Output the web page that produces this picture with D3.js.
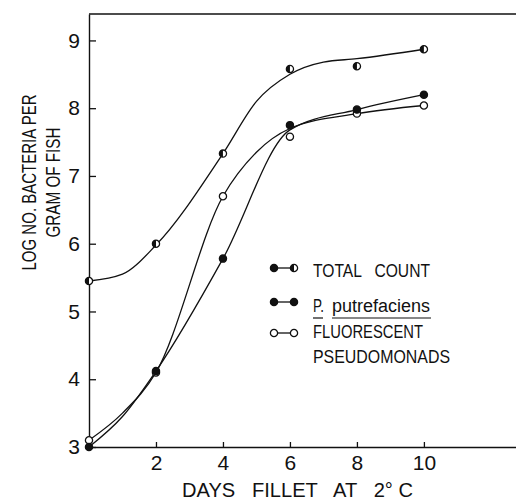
<!DOCTYPE html>
<html>
<head>
<meta charset="utf-8">
<style>
  body { margin: 0; background: #fff; }
  svg { display: block; font-family: "Liberation Sans", Arial, sans-serif; }
  text { white-space: pre; }
</style>
</head>
<body>
<svg width="516" height="502"></svg>
<script src="https://d3js.org/d3.v7.min.js"></script>
<script>
// measured values (days of storage, log count per gram)
var days = [0, 2, 4, 6, 8, 10];
var totalCount = [5.45, 6.0, 7.33, 8.58, 8.62, 8.87];
var putrefaciens = [3.0, 4.12, 5.78, 7.75, 7.98, 8.2];
var fluorescent = [3.1, 4.1, 6.7, 7.58, 7.92, 8.04];

// hand-fitted curves as drawn in the figure
var totalCurveDays = [0, 1, 2, 4, 5, 6, 7, 8, 10];
var totalCurve = [5.45, 5.55, 5.98, 7.33, 8.1, 8.5, 8.68, 8.73, 8.87];
var putreCurveDays = [0, 1, 2, 4, 6, 8, 10];
var putreCurve = [3.0, 3.45, 4.12, 5.78, 7.68, 7.98, 8.2];
var fluoCurveDays = [0, 1, 2, 4, 5, 6, 8, 10];
var fluoCurve = [3.1, 3.5, 4.1, 6.7, 7.35, 7.7, 7.92, 8.04];

var xTicks = [2, 4, 6, 8, 10];
var yTicks = [3, 4, 5, 6, 7, 8, 9];

var svg = d3.select('svg');
var margin = {left: 89, top: 14, right: 0, bottom: 55};
var width = +svg.attr('width') - margin.left - margin.right;
var height = +svg.attr('height') - margin.top - margin.bottom;
var g = svg.append('g').attr('transform', `translate(${margin.left},${margin.top})`);

var x = d3.scaleLinear().domain([0, 12.75]).range([0, width]);
var y = d3.scaleLinear().domain([3, 9.39]).range([height, 0]);

// frame: top line
g.append('line')
  .attr('x1', 0).attr('x2', width).attr('y1', 0).attr('y2', 0)
  .attr('stroke', '#111').attr('stroke-width', 1.3);

var xAxis = g.append('g')
  .attr('transform', `translate(0,${height})`)
  .call(d3.axisBottom(x).tickValues(xTicks).tickFormat(d3.format('d'))
    .tickSizeInner(-5).tickSizeOuter(0).tickPadding(8));
var yAxis = g.append('g')
  .call(d3.axisLeft(y).tickValues(yTicks).tickFormat(d3.format('d'))
    .tickSizeInner(-7).tickSizeOuter(0).tickPadding(9));

[xAxis, yAxis].forEach(function (a) {
  a.select('.domain').attr('stroke', '#111').attr('stroke-width', 1.4);
  a.selectAll('.tick line').attr('stroke', '#111').attr('stroke-width', 1.3);
  a.selectAll('.tick text').attr('fill', '#111')
    .style('font-size', '21px').style('font-family', '"Liberation Sans", Arial, sans-serif');
});

// axis titles
svg.append('text')
  .attr('x', 182).attr('y', 497)
  .attr('textLength', 231).attr('lengthAdjust', 'spacingAndGlyphs')
  .style('font-size', '20px').attr('fill', '#111')
  .text('DAYS   FILLET   AT   2° C');

var yTitle = [
  {t: 'LOG NO. BACTERIA PER', cx: 36, len: 176},
  {t: 'GRAM OF FISH', cx: 60, len: 110}
];
yTitle.forEach(function (d) {
  svg.append('text')
    .attr('transform', `translate(${d.cx},182.5) rotate(-90)`)
    .attr('text-anchor', 'middle')
    .attr('textLength', d.len).attr('lengthAdjust', 'spacingAndGlyphs')
    .style('font-size', '21px').attr('fill', '#111')
    .text(d.t);
});

// curves
var line = d3.line()
  .x(function (d) { return x(d[0]); })
  .y(function (d) { return y(d[1]); })
  .curve(d3.curveMonotoneX);

[[totalCurveDays, totalCurve], [putreCurveDays, putreCurve], [fluoCurveDays, fluoCurve]]
  .forEach(function (c) {
    g.append('path')
      .datum(d3.zip(c[0], c[1]))
      .attr('fill', 'none')
      .attr('stroke', '#111')
      .attr('stroke-width', 1.3)
      .attr('d', line);
  });

// markers
var r = 3.6;
var halfArc = d3.arc().innerRadius(0).outerRadius(r).startAngle(Math.PI).endAngle(2 * Math.PI);

function marker(sel, kind) {
  sel.append('circle').attr('r', r)
    .attr('fill', kind === 'filled' ? '#111' : '#fff')
    .attr('stroke', '#111').attr('stroke-width', 1.3);
  if (kind === 'half') {
    sel.append('path').attr('d', halfArc).attr('fill', '#111');
  }
}

function drawPoints(vals, kind) {
  g.selectAll(null)
    .data(d3.zip(days, vals))
    .enter().append('g')
    .attr('transform', function (d) { return `translate(${x(d[0])},${y(d[1])})`; })
    .each(function () { marker(d3.select(this), kind); });
}
drawPoints(fluorescent, 'open');
drawPoints(putrefaciens, 'filled');
drawPoints(totalCount, 'half');

// legend
var legend = [
  {kind: 'half', y: 268},
  {kind: 'filled', y: 302},
  {kind: 'open', y: 333}
];
legend.forEach(function (d) {
  svg.append('line')
    .attr('x1', 274).attr('x2', 294).attr('y1', d.y).attr('y2', d.y)
    .attr('stroke', '#111').attr('stroke-width', 1.3);
  [274, 294].forEach(function (mx, i) {
    var k = d.kind === 'half' && i === 0 ? 'filled' : d.kind;
    marker(svg.append('g').attr('transform', `translate(${mx},${d.y})`), k);
  });
});

function legendText(t, x0, y0, len) {
  return svg.append('text')
    .attr('x', x0).attr('y', y0)
    .attr('textLength', len).attr('lengthAdjust', 'spacingAndGlyphs')
    .style('font-size', '18px').attr('fill', '#111')
    .text(t);
}
legendText('TOTAL   COUNT', 313, 277, 117);
legendText('P.', 313, 312, 11);
legendText('putrefaciens', 332, 312, 98);
svg.append('line').attr('x1', 313).attr('x2', 323).attr('y1', 318).attr('y2', 318)
  .attr('stroke', '#111').attr('stroke-width', 1.2);
svg.append('line').attr('x1', 332).attr('x2', 431).attr('y1', 318).attr('y2', 318)
  .attr('stroke', '#111').attr('stroke-width', 1.2);
legendText('FLUORESCENT', 313, 338, 110);
legendText('PSEUDOMONADS', 313, 363, 137);
</script>
</body>
</html>
